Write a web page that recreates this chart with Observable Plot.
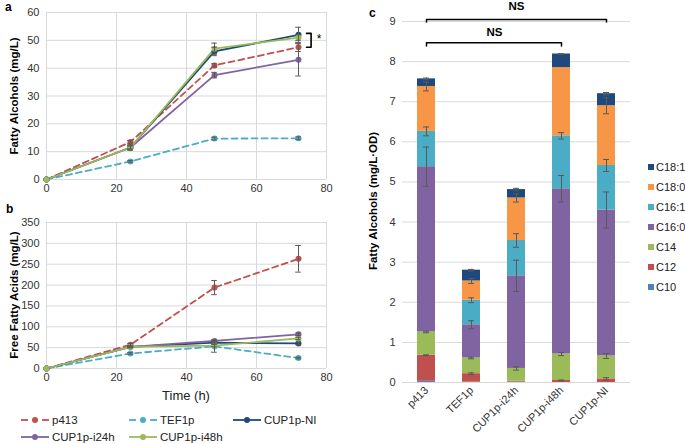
<!DOCTYPE html>
<html><head><meta charset="utf-8">
<script src="https://cdn.jsdelivr.net/npm/d3@7"></script>
<script src="https://cdn.jsdelivr.net/npm/@observablehq/plot@0.6"></script>
<style>
body{margin:0;background:#fff;font-family:"Liberation Sans",Arial,sans-serif;}
#root{position:relative;width:685px;height:444px;overflow:hidden;background:#fff;}
.abs{position:absolute;}
.plab{position:absolute;font-weight:bold;font-size:12px;color:#000;}
.ylab{position:absolute;font-weight:bold;font-size:11.5px;color:#000;white-space:nowrap;transform:translate(-50%,-50%) rotate(-90deg);}
.leg{position:absolute;font-size:11.5px;color:#222;display:flex;align-items:center;white-space:nowrap;}
.leg svg{margin-right:2px;}
.cleg{position:absolute;font-size:11px;color:#222;display:flex;align-items:center;white-space:nowrap;}
.cleg span.sw{display:inline-block;width:6px;height:6px;margin-right:2px;}
</style></head><body><div id="root"></div>
<script>
// ---------- Data ----------
const times = [0, 24, 48, 72];
const strains = ["p413", "TEF1p", "CUP1p-NI", "CUP1p-i24h", "CUP1p-i48h"];
const strainColors = ["#c0504d", "#4bacc6", "#1f497d", "#8064a2", "#9bbb59"];
const dashedStrains = ["p413", "TEF1p"];

// Panel a: fatty alcohols (mg/L)
const faP413 = [0, 13.5, 41, 47.5];
const faTEF1p = [0, 6.5, 14.7, 14.8];
const faNI = [0, 11.5, 46, 52];
const faI24 = [0, 11.5, 37.5, 43];
const faI48 = [0, 11.5, 47, 51];
const faErrP413 = [0, 0.5, 0.6, 1.5];
const faErrTEF1p = [0, 0.3, 0.5, 0.5];
const faErrNI = [0, 1, 1.5, 2.7];
const faErrI24 = [0, 0.5, 1, 5.8];
const faErrI48 = [0, 0.8, 2, 1];

// Panel b: free fatty acids (mg/L)
const ffaP413 = [0, 57, 194, 263];
const ffaTEF1p = [0, 36, 53, 25];
const ffaNI = [0, 52, 62, 60];
const ffaI24 = [0, 52, 66, 82];
const ffaI48 = [0, 52, 55, 72];
const ffaErrP413 = [0, 3, 17, 32];
const ffaErrTEF1p = [0, 2, 14, 2];
const ffaErrNI = [0, 2, 3, 3];
const ffaErrI24 = [0, 2, 3, 3];
const ffaErrI48 = [0, 2, 3, 3];

const timeTicks = [0, 20, 40, 60, 80];
const faTicks = [0, 10, 20, 30, 40, 50, 60];
const ffaTicks = [0, 50, 100, 150, 200, 250, 300, 350];

// Panel c: fatty alcohol profile (mg/L·OD), stacked bottom -> top
const barStrains = ["p413", "TEF1p", "CUP1p-i24h", "CUP1p-i48h", "CUP1p-NI"];
const chainClasses = ["C10", "C12", "C14", "C16:0", "C16:1", "C18:0", "C18:1"];
const chainColors = ["#4f81bd", "#c0504d", "#9bbb59", "#8064a2", "#4bacc6", "#f79646", "#1f497d"];
const c10 = [0.03, 0.01, 0.01, 0, 0];
const c12 = [0.65, 0.21, 0.02, 0.05, 0.09];
const c14 = [0.58, 0.39, 0.32, 0.66, 0.57];
const c160 = [4.12, 0.83, 2.31, 4.12, 3.64];
const c161 = [0.88, 0.61, 0.88, 1.32, 1.11];
const c180 = [1.12, 0.48, 1.06, 1.70, 1.49];
const c181 = [0.19, 0.27, 0.21, 0.34, 0.30];
const e10 = [0, 0, 0, 0, 0];
const e12 = [0.01, 0.02, 0, 0.01, 0.03];
const e14 = [0.02, 0.02, 0.04, 0.04, 0.06];
const e160 = [0.49, 0.1, 0.39, 0.33, 0.45];
const e161 = [0.11, 0.06, 0.17, 0.08, 0.15];
const e180 = [0.11, 0.06, 0.1, 0, 0.2];
const e181 = [0.02, 0.02, 0.03, 0.01, 0.03];
const cTicks = [0, 1, 2, 3, 4, 5, 6, 7, 8, 9];

// ---------- Helpers ----------
const root = document.getElementById("root");
function place(el, left, top) { el.style.position = "absolute"; el.style.left = left + "px"; el.style.top = top + "px"; root.appendChild(el); return el; }
function div(cls, html, left, top) { const d = document.createElement("div"); d.className = cls; d.innerHTML = html; d.style.left = left + "px"; d.style.top = top + "px"; root.appendChild(d); return d; }

function buildRows(values, errs) {
  const rows = [];
  strains.forEach((s, i) => times.forEach((t, j) => rows.push({strain: s, t, v: values[i][j], e: errs[i][j]})));
  return rows;
}
const gridColor = "#d9d9d9", errColor = "#595959";
const axisStyle = {fontSize: "11px", fontFamily: "Liberation Sans, Arial, sans-serif", color: "#333", background: "transparent", overflow: "visible"};

function linePanel(rows, yTicks, height, mt, mb, extra) {
  const errRows = rows.filter(d => d.e > 0);
  return Plot.plot({
    width: 340, height, marginLeft: 46, marginRight: 14, marginTop: mt, marginBottom: mb,
    style: axisStyle,
    x: {domain: [0, 80], ticks: timeTicks, tickSize: 0, tickPadding: 5, label: null},
    y: {domain: [yTicks[0], yTicks[yTicks.length - 1]], ticks: yTicks, tickSize: 0, tickPadding: 7, label: null},
    color: {domain: strains, range: strainColors},
    marks: [
      Plot.ruleX(timeTicks, {stroke: gridColor}),
      Plot.ruleY(yTicks, {stroke: gridColor}),
      ...strains.map(s => Plot.line(rows.filter(d => d.strain === s), {x: "t", y: "v", stroke: "strain", strokeWidth: 1.8,
        strokeDasharray: dashedStrains.includes(s) ? "6,4" : null})),
      Plot.dot(rows, {x: "t", y: "v", fill: "strain", r: 3}),
      Plot.ruleX(errRows, {x: "t", y1: d => d.v - d.e, y2: d => d.v + d.e, stroke: errColor, strokeWidth: 1}),
      Plot.ruleY(errRows, {y: d => d.v + d.e, x1: d => d.t - 0.8, x2: d => d.t + 0.8, stroke: errColor, strokeWidth: 1}),
      Plot.ruleY(errRows, {y: d => d.v - d.e, x1: d => d.t - 0.8, x2: d => d.t + 0.8, stroke: errColor, strokeWidth: 1}),
      ...(extra || [])
    ]
  });
}

// ---------- Panel a ----------
const rowsA = buildRows([faP413, faTEF1p, faNI, faI24, faI48], [faErrP413, faErrTEF1p, faErrNI, faErrI24, faErrI48]);
const bx = 75.6, bTop = faNI[3] + 0.5, bBot = faP413[3];
const bracketA = [{x: bx - 1.3, y: bTop}, {x: bx, y: bTop}, {x: bx, y: bBot}, {x: bx - 1.3, y: bBot}];
const svgA = linePanel(rowsA, faTicks, 196, 12, 17, [
  Plot.line(bracketA, {x: "x", y: "y", stroke: "#000", strokeWidth: 1.6}),
  Plot.text(["*"], {x: bx + 2.3, y: (bTop + bBot) / 2 + 0.6, text: d => d, fontSize: 12, fill: "#000"})
]);
place(svgA, 0, 0);

// ---------- Panel b ----------
const rowsB = buildRows([ffaP413, ffaTEF1p, ffaNI, ffaI24, ffaI48], [ffaErrP413, ffaErrTEF1p, ffaErrNI, ffaErrI24, ffaErrI48]);
const svgB = linePanel(rowsB, ffaTicks, 185, 22, 17);
place(svgB, 0, 200);

// ---------- Panel c ----------
const classVals = [c10, c12, c14, c160, c161, c180, c181];
const classErrs = [e10, e12, e14, e160, e161, e180, e181];
const barRows = [];
const errRowsC = [];
barStrains.forEach((s, i) => {
  let cum = 0;
  chainClasses.forEach((c, k) => {
    cum += classVals[k][i];
    if (classErrs[k][i] > 0) errRowsC.push({strain: s, top: cum, e: classErrs[k][i]});
  });
});
chainClasses.forEach((c, k) => barStrains.forEach((s, i) => barRows.push({strain: s, cls: c, v: classVals[k][i]})));

const nsBrackets = [
  {from: "p413", to: "CUP1p-NI", y: 9.05, drop: 0.06, label: "NS", at: "CUP1p-i24h", dx: 0, ty: 9.38},
  {from: "p413", to: "CUP1p-i48h", y: 8.47, drop: 0.08, label: "NS", at: "TEF1p", dx: 23, ty: 8.72}
];
const nsLines = [];
nsBrackets.forEach((b, i) => {
  nsLines.push({id: i, x: b.from, y: b.y - b.drop}, {id: i, x: b.from, y: b.y}, {id: i, x: b.to, y: b.y}, {id: i, x: b.to, y: b.y - b.drop});
});

const svgC = Plot.plot({
  width: 345, height: 444, marginLeft: 62, marginRight: 55, marginTop: 21, marginBottom: 62,
  style: axisStyle,
  x: {domain: barStrains, paddingInner: 0.6, paddingOuter: 0.3, tickSize: 0, tickPadding: 6, tickRotate: -45, label: null},
  y: {domain: [0, 9], ticks: cTicks, tickSize: 0, tickPadding: 7, label: null},
  color: {domain: chainClasses, range: chainColors},
  marks: [
    Plot.ruleY(cTicks, {stroke: gridColor}),
    Plot.barY(barRows, {x: "strain", y: "v", fill: "cls"}),
    Plot.ruleX(errRowsC, {x: "strain", y1: d => d.top - d.e, y2: d => d.top + d.e, stroke: errColor, strokeWidth: 1}),
    Plot.tickY(errRowsC, {x: "strain", y: d => d.top + d.e, stroke: errColor, insetLeft: 6, insetRight: 6}),
    Plot.tickY(errRowsC, {x: "strain", y: d => d.top - d.e, stroke: errColor, insetLeft: 6, insetRight: 6}),
    Plot.line(nsLines, {x: "x", y: "y", z: "id", stroke: "#000", strokeWidth: 1.5}),
    ...nsBrackets.map(b => Plot.text([b], {x: "at", y: "ty", dx: b.dx, text: "label", fontWeight: "bold", fontSize: 11.5, fill: "#000"}))
  ]
});
place(svgC, 340, 0);

// ---------- Text labels ----------
div("plab", "a", 5, 0);
div("plab", "b", 6, 202);
div("plab", "c", 369, 6);
div("ylab", "Fatty Alcohols (mg/L)", 14, 96);
div("ylab", "Free Fatty Acids (mg/L)", 14, 295);
div("ylab", "Fatty Alcohols (mg/L·OD)", 373, 201);
const tl = div("abs", "Time (h)", 186, 395);
tl.style.fontSize = "13px"; tl.style.color = "#222"; tl.style.transform = "translate(-50%,-50%)";

// ---------- Legend a/b ----------
const legPos = [[20, 420], [128, 420], [232, 420], [20, 437], [128, 437]];
strains.forEach((s, i) => {
  const dashed = dashedStrains.includes(s);
  const col = strainColors[i];
  const lineSvg = dashed
    ? `<line x1="1" y1="5" x2="8" y2="5" stroke="${col}" stroke-width="1.8"/><line x1="22" y1="5" x2="29" y2="5" stroke="${col}" stroke-width="1.8"/>`
    : `<line x1="1" y1="5" x2="29" y2="5" stroke="${col}" stroke-width="1.8"/>`;
  const html = `<svg width="30" height="10">${lineSvg}<circle cx="15" cy="5" r="3" fill="${col}"/></svg>${s}`;
  const d = div("leg", html, legPos[i][0], legPos[i][1]);
  d.style.transform = "translateY(-50%)";
});

// ---------- Legend c ----------
chainClasses.slice().reverse().forEach((c, i) => {
  const col = chainColors[chainClasses.length - 1 - i];
  const d = div("cleg", `<span class="sw" style="background:${col}"></span>${c}`, 648, 167 + i * 20);
  d.style.transform = "translateY(-50%)";
});
</script></body></html>
